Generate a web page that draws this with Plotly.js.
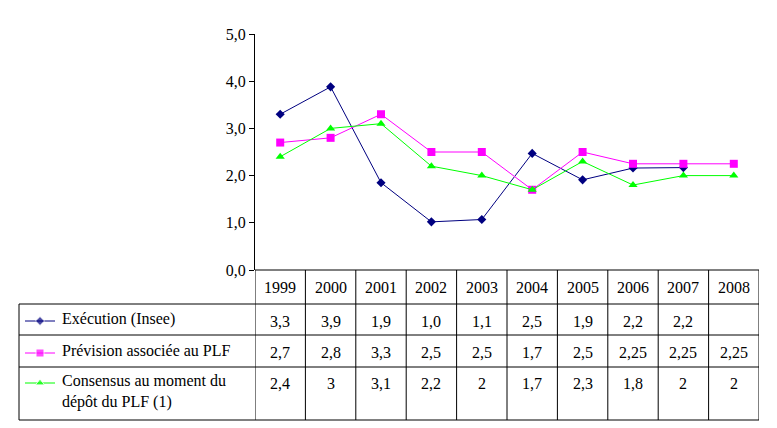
<!DOCTYPE html>
<html><head><meta charset="utf-8">
<script src="https://cdn.plot.ly/plotly-3.0.1.min.js"></script>
<style>html,body{margin:0;padding:0;background:#fff}</style>
</head><body><div id="chart" style="width:777px;height:428px"></div>
<script>
// ---- data ----
const years = ['1999','2000','2001','2002','2003','2004','2005','2006','2007','2008'];
const seriesNames = ['Exécution (Insee)', 'Prévision associée au PLF', 'Consensus au moment du<br>dépôt du PLF (1)'];
const execution = [3.3, 3.88, 1.85, 1.02, 1.07, 2.47, 1.91, 2.16, 2.17];
const prevision = [2.7, 2.8, 3.3, 2.5, 2.5, 1.7, 2.5, 2.25, 2.25, 2.25];
const consensus = [2.4, 3, 3.1, 2.2, 2, 1.7, 2.3, 1.8, 2, 2];
const yTicks = [0, 1, 2, 3, 4, 5];

// ---- layout helpers (pixel -> paper) ----
const W = 777, H = 428;
const M = {l: 19, r: 18, t: 34, b: 8};
const PW = W - M.l - M.r, PH = H - M.t - M.b;
const px = x => (x - M.l) / PW;
const py = y => (H - M.b - y) / PH;
const FONT = 'Liberation Serif';
const FS = 16;

const plotLeft = 255, plotRight = 759, rowTop = 270, tableBottom = 420;
const rowLines = [304, 335, 367, 420];
const rowCenters = [287, 321, 352, 383];
const keyRowY = [321, 353, 383];     // legend key rows (pixels)
const keyX = [25, 40, 55];           // legend key line start / marker / end (pixels)
const keyTextX = 62;

const colors = ['#000080', '#FF00FF', '#00FF00'];
const symbols = ['diamond', 'square', 'triangle-up'];
const sizes = [7, 8, 8];
const seriesData = [execution, prevision, consensus];
const fmt = [v => v.toFixed(1).replace('.', ','), v => String(v).replace('.', ','), v => String(v).replace('.', ',')];

const traces = seriesData.map((d, i) => ({
  type: 'scatter', mode: 'lines+markers',
  x: years.slice(0, d.length), y: d,
  name: seriesNames[i],
  line: {color: colors[i], width: 1},
  marker: {color: colors[i], symbol: symbols[i], size: sizes[i]},
  cliponaxis: false
}));
// legend keys in the table's first column (pixel-unit helper axes)
seriesData.forEach((d, i) => traces.push({
  type: 'scatter', mode: 'lines+markers', xaxis: 'x2', yaxis: 'y2',
  x: keyX, y: keyX.map(() => keyRowY[i]), showlegend: false, hoverinfo: 'skip',
  line: {color: colors[i], width: 1},
  marker: {color: colors[i], symbol: symbols[i], size: [0, sizes[i], 0]},
  cliponaxis: false
}));

const shapes = [];
const L = (x0, y0, x1, y1, xref) => shapes.push({type: 'line', xref: xref || 'paper', yref: 'paper',
  x0: x0, x1: x1, y0: y0, y1: y1, line: {color: '#000', width: 1}});
L(px(plotLeft), py(rowTop), px(plotRight), py(rowTop));
rowLines.forEach(y => L(px(M.l), py(y), px(plotRight), py(y)));
L(px(M.l), py(rowLines[0]), px(M.l), py(rowLines[3]));
for (let i = 0; i <= years.length; i++) L(i - 0.5, py(rowTop), i - 0.5, py(rowLines[3]), 'x');

const annotations = [];
const tf = {family: FONT, size: FS, color: '#000'};
years.forEach((yr, i) => annotations.push({xref: 'x', yref: 'paper', x: i, y: py(rowCenters[0]),
  text: yr, showarrow: false, yanchor: 'middle', xanchor: 'center', font: tf}));
seriesData.forEach((d, s) => d.forEach((v, i) => annotations.push({xref: 'x', yref: 'paper', x: i,
  y: py(rowCenters[s + 1]), text: fmt[s](v), showarrow: false, yanchor: 'middle', xanchor: 'center', font: tf})));
seriesNames.forEach((n, i) => annotations.push({xref: 'paper', yref: 'paper', x: px(keyTextX),
  y: py(keyRowY[i] - 11), text: n, showarrow: false, xanchor: 'left', yanchor: 'top', align: 'left',
  xshift: -1, yshift: 1, borderpad: 0, font: tf}));

const layout = {
  width: W, height: H, margin: M,
  paper_bgcolor: '#fff', plot_bgcolor: '#fff',
  separators: ', ', showlegend: false,
  font: tf,
  xaxis: {type: 'category', domain: [px(plotLeft), 1], range: [-0.5, 9.5],
    showticklabels: false, ticks: '', showgrid: false, zeroline: false, showline: false, fixedrange: true},
  yaxis: {domain: [py(rowTop), 1], range: [0, 5], tickvals: yTicks, tickformat: '.1f',
    ticks: 'outside', ticklen: 5, tickcolor: '#000', showline: true, linecolor: '#000', linewidth: 1,
    showgrid: false, zeroline: false, tickfont: tf},
  xaxis2: {domain: [0, px(plotLeft)], range: [M.l, plotLeft], visible: false, anchor: 'y2', fixedrange: true},
  yaxis2: {domain: [0, py(rowTop)], range: [tableBottom, rowTop], visible: false, anchor: 'x2', fixedrange: true},
  shapes: shapes, annotations: annotations
};
Plotly.newPlot('chart', traces, layout, {displayModeBar: false, staticPlot: true});
</script></body></html>
